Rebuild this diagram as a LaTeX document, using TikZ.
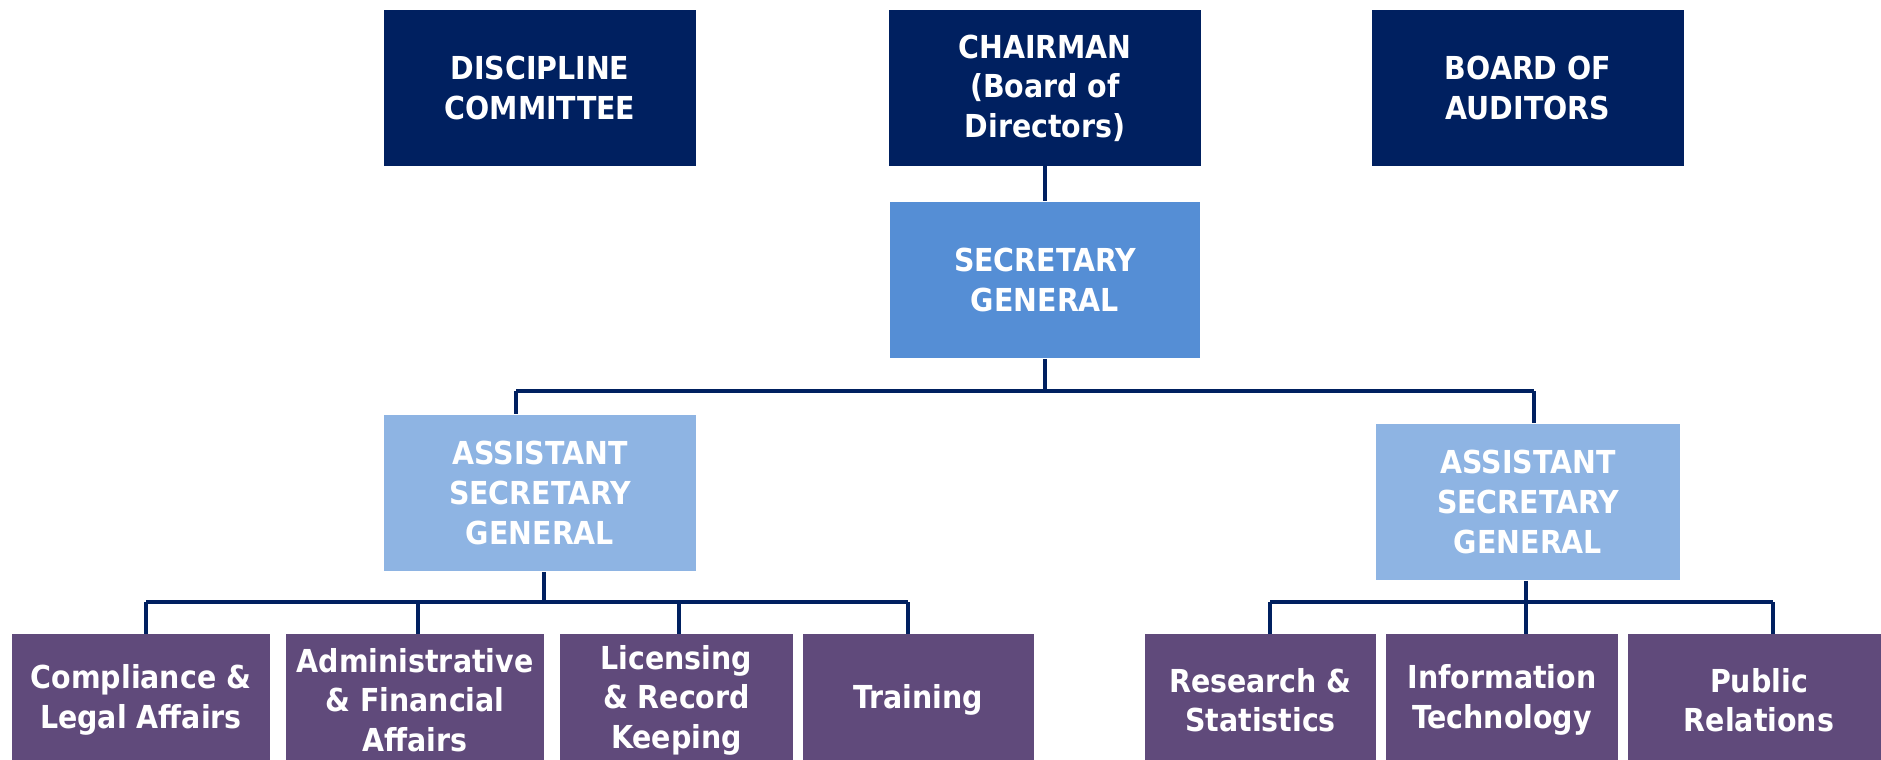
\documentclass[tikz,border=0pt]{standalone}
\usepackage{fontspec}
\setmainfont{DejaVu Sans Condensed}
\usepackage{xcolor}
\usetikzlibrary{positioning, calc}

\definecolor{navy}{HTML}{002060}
\definecolor{sgblue}{HTML}{558ED5}
\definecolor{asgblue}{HTML}{8EB4E3}
\definecolor{deptpurple}{HTML}{604A7B}

\begin{document}
\begin{tikzpicture}[x=0.02cm, y=-0.02cm,
    unit/.style={inner sep=0pt, align=center, text=white,
        font=\fontsize{18}{22.5}\selectfont\bfseries},
    board/.style={unit, fill=navy, minimum width=6.24cm, minimum height=3.12cm},
    secgen/.style={unit, fill=sgblue, minimum width=6.22cm, minimum height=3.14cm},
    asg/.style={unit, fill=asgblue, minimum height=3.14cm},
    dept/.style={unit, fill=deptpurple, minimum height=2.64cm},
    link/.style={draw=navy, line width=2.2pt}]
    \useasboundingbox (0,0) rectangle (1881,760);
    \clip (0,0) rectangle (1881,760);

    % top row
    \node[board] (disc) at (540, 88) {DISCIPLINE\\COMMITTEE};
    \node[board] (chair) at (1045, 88) {CHAIRMAN\\(Board of\\Directors)};
    \node[board] (audit) at (1528, 88) {BOARD OF\\AUDITORS};

    \node[secgen] (sg) at (1045, 280) {SECRETARY\\GENERAL};

    \node[asg, minimum width=6.24cm] (asgl) at (540, 493) {ASSISTANT\\SECRETARY\\GENERAL};
    \node[asg, minimum width=6.10cm] (asgr) at (1528, 502) {ASSISTANT\\SECRETARY\\GENERAL};

    % departments
    \node[dept, minimum width=5.16cm] (comp) at (141, 700) {Compliance \&\\Legal Affairs};
    \node[dept, minimum width=5.16cm] (admin) at (415, 700) {Administrative\\\& Financial\\Affairs};
    \node[dept, minimum width=4.66cm] (lic) at (676.5, 700) {Licensing\\\& Record\\Keeping};
    \node[dept, minimum width=4.62cm] (train) at (918.5, 700) {Training};
    \node[dept, minimum width=4.62cm] (res) at (1260.5, 700) {Research \&\\Statistics};
    \node[dept, minimum width=4.64cm] (it) at (1502, 700) {Information\\Technology};
    \node[dept, minimum width=5.24cm] (pub) at (1759, 700) {Public\\Relations};

    % bus lines
    \coordinate (bus) at (1045, 391);
    \coordinate (busl) at (516, 391);
    \coordinate (busr) at (1534, 391);
    \coordinate (ll) at (146, 602);
    \coordinate (lr) at (908, 602);
    \coordinate (rl) at (1270, 602);
    \coordinate (rm) at (1526, 602);
    \coordinate (rr) at (1773, 602);

    \draw[link]
    (chair) -- (sg)
    (sg) -- (bus)
    (busl) -- (busr)
    (busl) -- (busl |- asgl.north)
    (busr) -- (busr |- asgr.north)
    (asgl.south -| 544, 0) -- (544, 602)
    (ll) -- (lr)
    (ll) -- (ll |- comp.north)
    (418, 602) -- (admin.north -| 418, 0)
    (679, 602) -- (lic.north -| 679, 0)
    (lr) -- (lr |- train.north)
    (asgr.south -| rm) -- (rm)
    (rl) -- (rr)
    (rl) -- (rl |- res.north)
    (rm) -- (rm |- it.north)
    (rr) -- (rr |- pub.north);
\end{tikzpicture}
\end{document}
